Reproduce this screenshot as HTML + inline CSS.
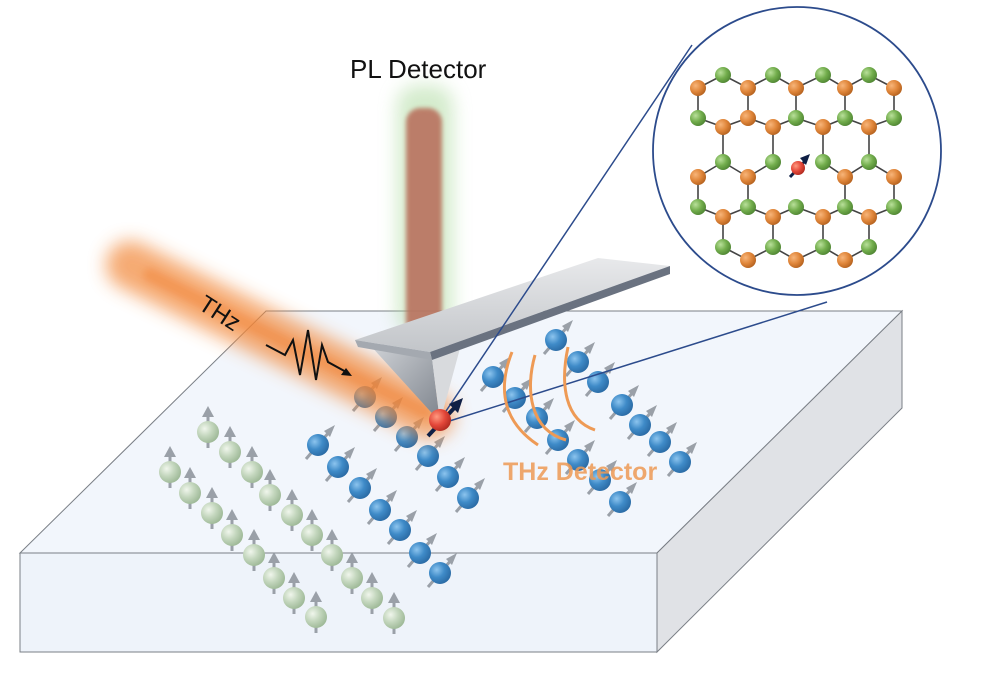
<!DOCTYPE html>
<html><head><meta charset="utf-8"><style>
html,body{margin:0;padding:0;background:#fff;}
svg{display:block;}
text{font-family:"Liberation Sans",Arial,sans-serif;}
</style></head><body>
<svg width="981" height="681" viewBox="0 0 981 681" xmlns="http://www.w3.org/2000/svg">
<defs>
<filter id="b8" x="-50%" y="-50%" width="200%" height="200%"><feGaussianBlur stdDeviation="9"/></filter>
<filter id="b4" x="-50%" y="-50%" width="200%" height="200%"><feGaussianBlur stdDeviation="4"/></filter>
<filter id="b2" x="-50%" y="-50%" width="200%" height="200%"><feGaussianBlur stdDeviation="2"/></filter>
<radialGradient id="gb" cx="0.35" cy="0.35" r="0.7"><stop offset="0" stop-color="#8cc4ee"/><stop offset="0.5" stop-color="#3f8bc8"/><stop offset="1" stop-color="#2a6aa4"/></radialGradient>
<radialGradient id="gg" cx="0.35" cy="0.35" r="0.7"><stop offset="0" stop-color="#f0f6ec"/><stop offset="0.5" stop-color="#c3d6bd"/><stop offset="1" stop-color="#9db896"/></radialGradient>
<radialGradient id="go" cx="0.35" cy="0.35" r="0.7"><stop offset="0" stop-color="#f7b57a"/><stop offset="0.55" stop-color="#e0863a"/><stop offset="1" stop-color="#b5621f"/></radialGradient>
<radialGradient id="ggr" cx="0.35" cy="0.35" r="0.7"><stop offset="0" stop-color="#b9e09a"/><stop offset="0.55" stop-color="#72ad4c"/><stop offset="1" stop-color="#4f8533"/></radialGradient>
<radialGradient id="gr" cx="0.35" cy="0.35" r="0.7"><stop offset="0" stop-color="#ff9a80"/><stop offset="0.55" stop-color="#e4483a"/><stop offset="1" stop-color="#b02a20"/></radialGradient>
<linearGradient id="tip" x1="0" y1="0" x2="1" y2="1"><stop offset="0" stop-color="#d0d3d7"/><stop offset="1" stop-color="#7d838c"/></linearGradient>
<linearGradient id="arm" x1="0" y1="0" x2="0" y2="1"><stop offset="0" stop-color="#e8e9eb"/><stop offset="1" stop-color="#c2c5c9"/></linearGradient>
<g id="sb"><line x1="-12" y1="14" x2="12" y2="-14" stroke="#9aa0a8" stroke-width="3"/><polygon points="17,-20 6,-14 12,-8" fill="#9aa0a8"/><circle r="11" fill="url(#gb)"/></g>
<g id="sg"><line x1="0" y1="16" x2="0" y2="-18" stroke="#9aa0a8" stroke-width="3"/><polygon points="0,-26 -6,-15 6,-15" fill="#9aa0a8"/><circle r="11" fill="url(#gg)"/></g>
</defs>

<!-- slab -->
<polygon points="266,311 902,311 657,553 20,553" fill="#f2f6fc" stroke="#7a7f86" stroke-width="1"/>
<polygon points="20,553 657,553 657,652 20,652" fill="#eef3fa" stroke="#7a7f86" stroke-width="1"/>
<polygon points="657,553 902,311 902,408 657,652" fill="#e0e2e6" stroke="#7a7f86" stroke-width="1"/>

<!-- PL beam -->
<rect x="397" y="85" width="56" height="250" rx="20" fill="#a9d89a" opacity="0.5" filter="url(#b8)"/>
<rect x="406" y="108" width="36" height="228" rx="14" fill="#b9725e" opacity="0.9" filter="url(#b2)"/>
<text x="350" y="78" font-size="26" fill="#111">PL Detector</text>

<!-- green spins -->
<g>
<use href="#sg" x="208" y="432"/><use href="#sg" x="230" y="452"/><use href="#sg" x="252" y="472"/><use href="#sg" x="270" y="495"/><use href="#sg" x="292" y="515"/><use href="#sg" x="312" y="535"/><use href="#sg" x="332" y="555"/><use href="#sg" x="352" y="578"/><use href="#sg" x="372" y="598"/><use href="#sg" x="394" y="618"/>
<use href="#sg" x="170" y="472"/><use href="#sg" x="190" y="493"/><use href="#sg" x="212" y="513"/><use href="#sg" x="232" y="535"/><use href="#sg" x="254" y="555"/><use href="#sg" x="274" y="578"/><use href="#sg" x="294" y="598"/><use href="#sg" x="316" y="617"/>
</g>
<!-- blue spins -->
<g>
<use href="#sb" x="365" y="397"/><use href="#sb" x="386" y="417"/><use href="#sb" x="407" y="437"/><use href="#sb" x="428" y="456"/><use href="#sb" x="448" y="477"/><use href="#sb" x="468" y="498"/>
<use href="#sb" x="318" y="445"/><use href="#sb" x="338" y="467"/><use href="#sb" x="360" y="488"/><use href="#sb" x="380" y="510"/><use href="#sb" x="400" y="530"/><use href="#sb" x="420" y="553"/><use href="#sb" x="440" y="573"/>
<use href="#sb" x="493" y="377"/><use href="#sb" x="515" y="398"/><use href="#sb" x="537" y="418"/><use href="#sb" x="558" y="440"/><use href="#sb" x="578" y="460"/><use href="#sb" x="600" y="480"/><use href="#sb" x="620" y="502"/>
<use href="#sb" x="556" y="340"/><use href="#sb" x="578" y="362"/><use href="#sb" x="598" y="382"/><use href="#sb" x="622" y="405"/><use href="#sb" x="640" y="425"/><use href="#sb" x="660" y="442"/><use href="#sb" x="680" y="462"/>
</g>

<!-- THz beam -->
<line x1="130" y1="265" x2="430" y2="415" stroke="#f28a3c" stroke-width="48" stroke-linecap="round" opacity="0.72" filter="url(#b8)"/>
<line x1="150" y1="275" x2="425" y2="412" stroke="#f07a2a" stroke-width="14" stroke-linecap="round" opacity="0.4" filter="url(#b4)"/>
<text x="0" y="0" font-size="24" fill="#111" transform="translate(197,308) rotate(33)">THz</text>
<path d="M266,345 L285,355 L293,340 L300,375 L308,330 L316,380 L322,345 L328,362 L348,373" fill="none" stroke="#111" stroke-width="2"/>
<polygon points="352,376 341,375 346,368" fill="#111"/>

<!-- cantilever -->
<polygon points="370,345 432,358 440,422" fill="url(#tip)"/>
<polygon points="432,358 465,330 440,422" fill="#d8dadd"/>
<polygon points="355,340 598,258 670,266 430,352" fill="url(#arm)"/>
<polygon points="430,352 670,266 670,274 432,360" fill="#6a7280"/>
<polygon points="355,340 430,352 432,360 358,347" fill="#a4a9b0"/>

<!-- zoom lines -->
<line x1="440" y1="420" x2="692" y2="45" stroke="#2c4b8c" stroke-width="1.5"/>
<line x1="440" y1="424" x2="827" y2="302" stroke="#2c4b8c" stroke-width="1.5"/>

<!-- red defect spin -->
<line x1="428" y1="436" x2="458" y2="404" stroke="#0f1f45" stroke-width="4"/>
<polygon points="463,398 449,404 458,413" fill="#0f1f45"/>
<circle cx="440" cy="420" r="11" fill="url(#gr)"/>

<!-- THz detector arcs -->
<g fill="none" stroke="#ee9a55" stroke-width="3">
<path d="M538,445 C508,425 495,395 512,352"/>
<path d="M566,440 C530,430 525,390 535,355"/>
<path d="M595,430 C565,420 560,385 568,347"/>
</g>
<text x="503" y="480" font-size="25" font-weight="bold" fill="#ee9a55" opacity="0.85">THz Detector</text>

<!-- circle inset -->
<circle cx="797" cy="151" r="144" fill="#fff" stroke="#2c4b8c" stroke-width="1.8"/>
<g stroke="#444" stroke-width="1.6" fill="none">
<polyline points="698,88 723,75 748,88 773,75 796,88 823,75 845,88 869,75 894,88"/>
<path d="M698,88V118M748,88V118M796,88V118M845,88V118M894,88V118"/>
<polyline points="698,118 723,127 748,118 773,127 796,118 823,127 845,118 869,127 894,118"/>
<path d="M723,127V162M773,127V162M823,127V162M869,127V162"/>
<polyline points="698,177 723,162 748,177 773,162"/>
<polyline points="823,162 845,177 869,162 894,177"/>
<path d="M698,177V207M748,177V207M845,177V207M894,177V207"/>
<polyline points="698,207 723,217 748,207 773,217 796,207 823,217 845,207 869,217 894,207"/>
<path d="M723,217V247M773,217V247M823,217V247M869,217V247"/>
<polyline points="723,247 748,260 773,247 796,260 823,247 845,260 869,247"/>
</g>
<g fill="url(#ggr)">
<circle cx="723" cy="75" r="8"/><circle cx="773" cy="75" r="8"/><circle cx="823" cy="75" r="8"/><circle cx="869" cy="75" r="8"/>
<circle cx="698" cy="118" r="8"/><circle cx="796" cy="118" r="8"/><circle cx="845" cy="118" r="8"/><circle cx="894" cy="118" r="8"/>
<circle cx="723" cy="162" r="8"/><circle cx="773" cy="162" r="8"/><circle cx="823" cy="162" r="8"/><circle cx="869" cy="162" r="8"/>
<circle cx="698" cy="207" r="8"/><circle cx="748" cy="207" r="8"/><circle cx="796" cy="207" r="8"/><circle cx="845" cy="207" r="8"/><circle cx="894" cy="207" r="8"/>
<circle cx="723" cy="247" r="8"/><circle cx="773" cy="247" r="8"/><circle cx="823" cy="247" r="8"/><circle cx="869" cy="247" r="8"/>
</g>
<g fill="url(#go)">
<circle cx="698" cy="88" r="8"/><circle cx="748" cy="88" r="8"/><circle cx="796" cy="88" r="8"/><circle cx="845" cy="88" r="8"/><circle cx="894" cy="88" r="8"/>
<circle cx="748" cy="118" r="8"/>
<circle cx="723" cy="127" r="8"/><circle cx="773" cy="127" r="8"/><circle cx="823" cy="127" r="8"/><circle cx="869" cy="127" r="8"/>
<circle cx="698" cy="177" r="8"/><circle cx="748" cy="177" r="8"/><circle cx="845" cy="177" r="8"/><circle cx="894" cy="177" r="8"/>
<circle cx="723" cy="217" r="8"/><circle cx="773" cy="217" r="8"/><circle cx="823" cy="217" r="8"/><circle cx="869" cy="217" r="8"/>
<circle cx="748" cy="260" r="8"/><circle cx="796" cy="260" r="8"/><circle cx="845" cy="260" r="8"/>
</g>
<line x1="790" y1="177" x2="806" y2="160" stroke="#0f1f45" stroke-width="3"/>
<polygon points="810,154 800,158 806,165" fill="#0f1f45"/>
<circle cx="798" cy="168" r="7" fill="url(#gr)"/>
</svg>
</body></html>
